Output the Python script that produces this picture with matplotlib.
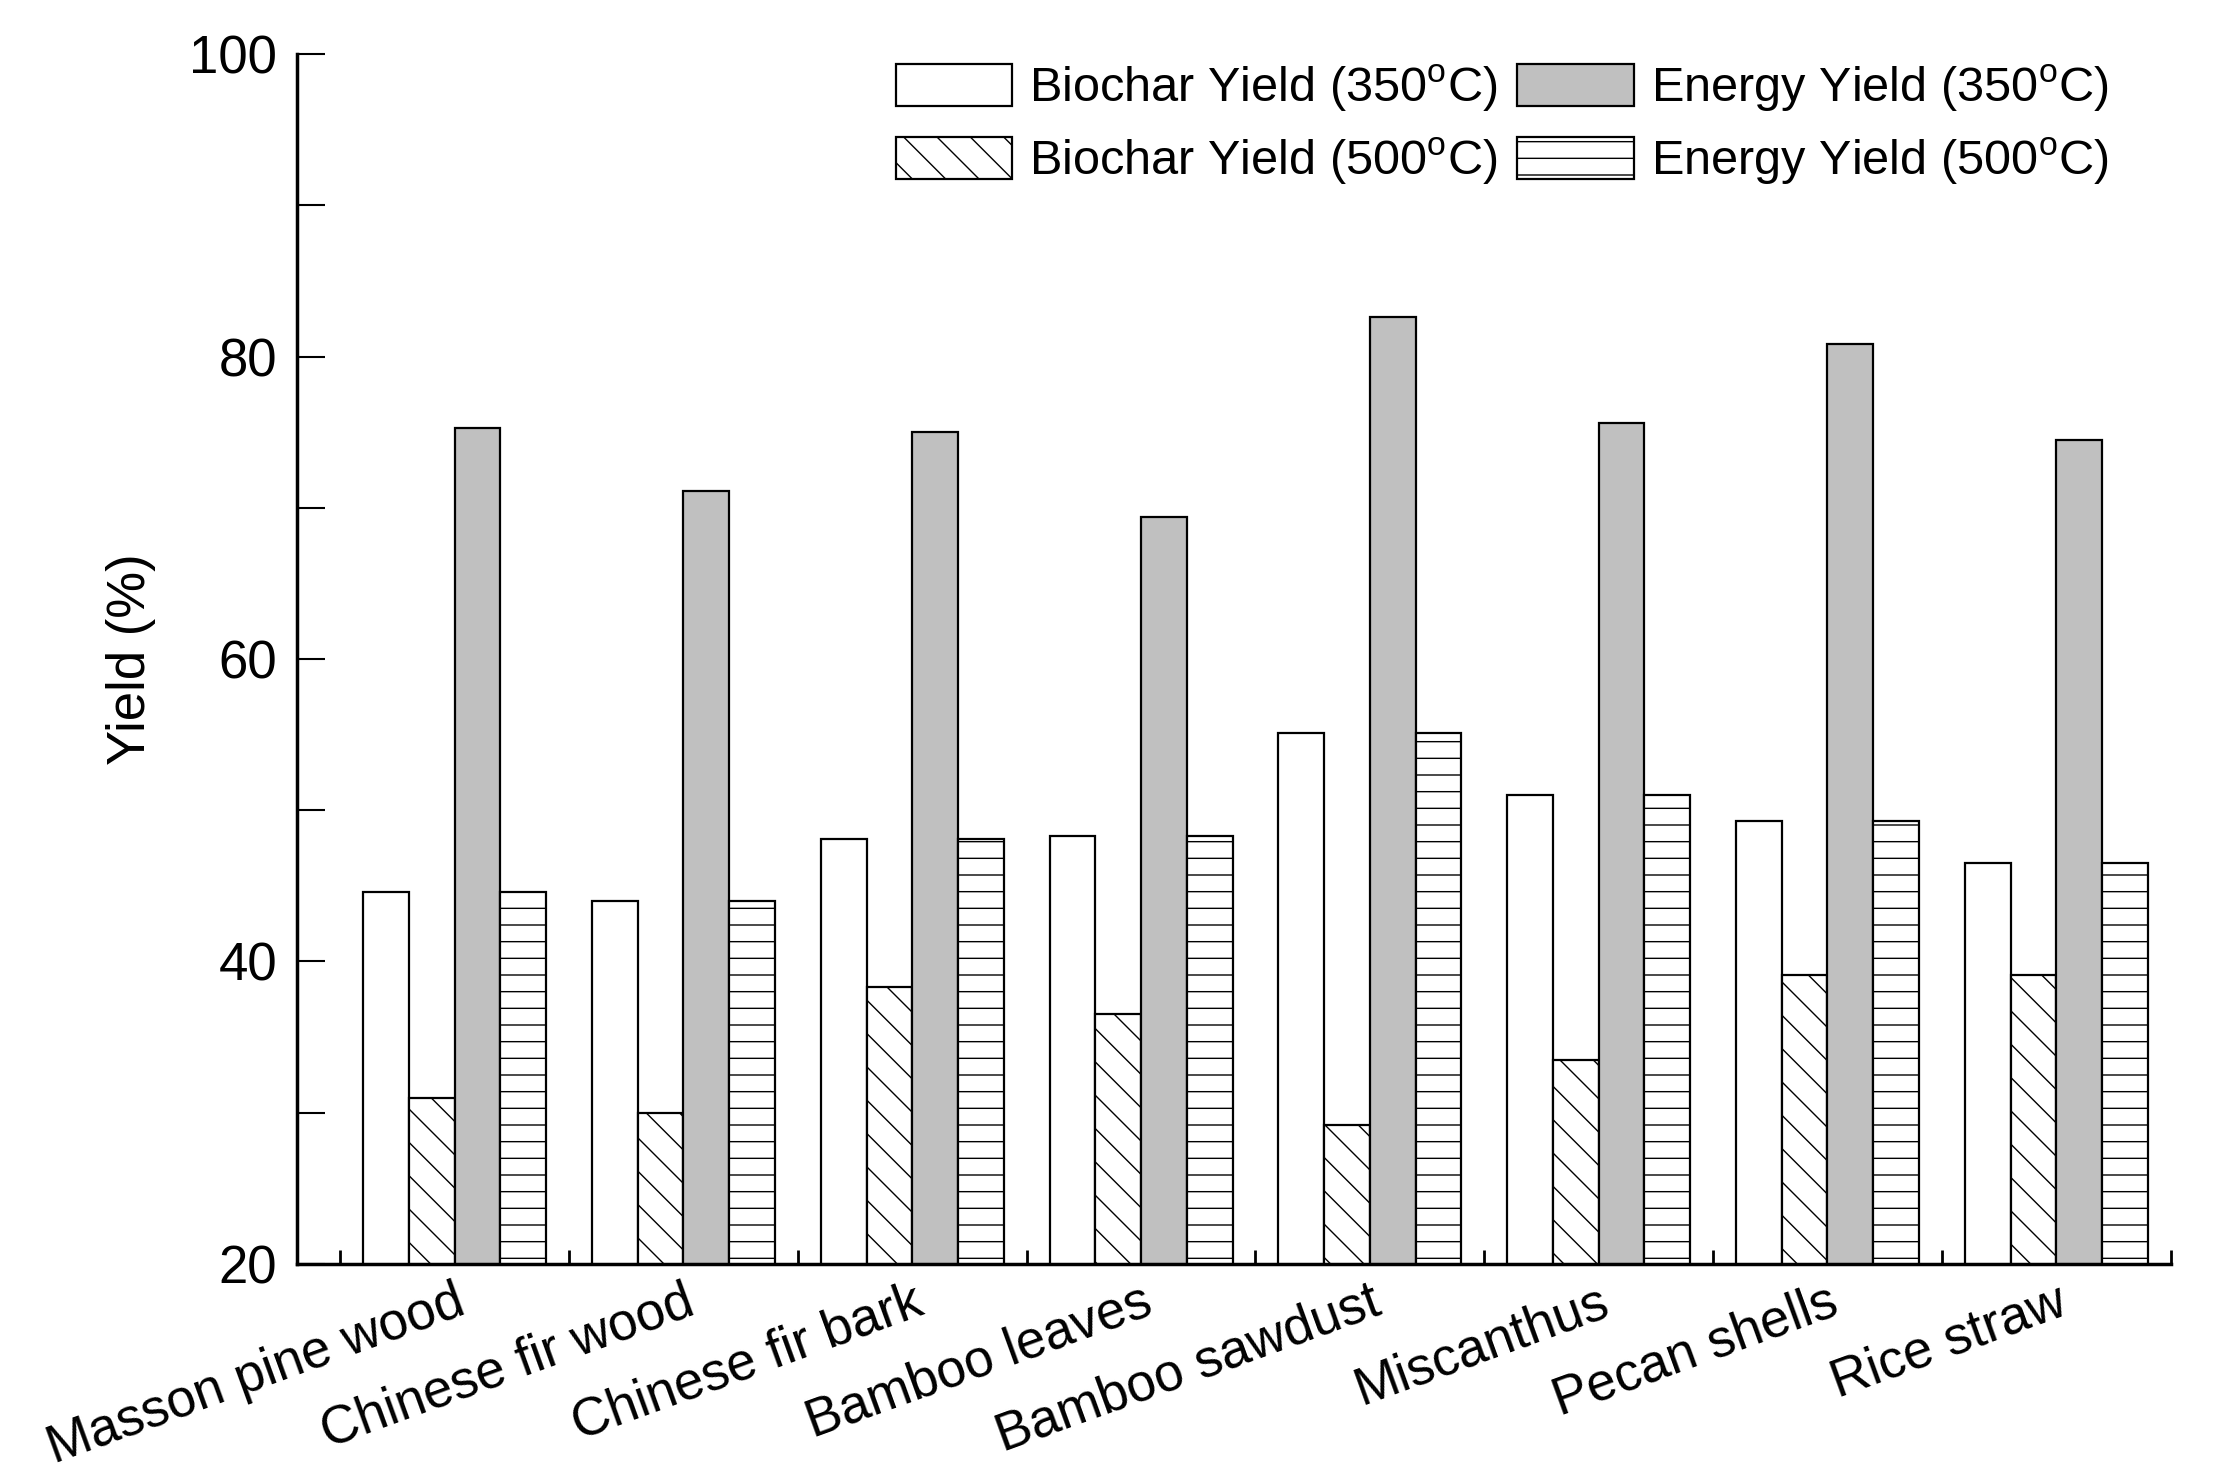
import numpy as np
import matplotlib
matplotlib.use('Agg')
import matplotlib.pyplot as plt
from matplotlib.ticker import FixedLocator, MultipleLocator

plt.rcParams['font.family'] = ['Liberation Sans', 'DejaVu Sans']
plt.rcParams['mathtext.fontset'] = 'custom'
plt.rcParams['mathtext.rm'] = 'Liberation Sans'
plt.rcParams['hatch.linewidth'] = 1.0

# Data
feedstocks = ['Masson pine wood', 'Chinese fir wood', 'Chinese fir bark',
              'Bamboo leaves', 'Bamboo sawdust', 'Miscanthus',
              'Pecan shells', 'Rice straw']
biochar_350 = [44.6, 44.0, 48.1, 48.3, 55.1, 51.0, 49.3, 46.5]
biochar_500 = [31.0, 30.0, 38.3, 36.5, 29.2, 33.5, 39.1, 39.1]
energy_350 = [75.3, 71.1, 75.0, 69.4, 82.6, 75.6, 80.8, 74.5]
energy_500 = [44.6, 44.0, 48.1, 48.3, 55.1, 51.0, 49.3, 46.5]

series_labels = [r'Biochar Yield (350$^{\rm o}$C)',
                 r'Biochar Yield (500$^{\rm o}$C)',
                 r'Energy Yield (350$^{\rm o}$C)',
                 r'Energy Yield (500$^{\rm o}$C)']

fig = plt.figure(figsize=(22.15, 14.79), dpi=100)
ax = fig.add_axes([0.134, 0.1454, 0.846, 0.818])

x = np.arange(len(feedstocks))
w = 0.2
lw = 1.6
b1 = ax.bar(x - 1.5 * w, biochar_350, w, color='white',
            edgecolor='black', linewidth=lw, label=series_labels[0])
b2 = ax.bar(x - 0.5 * w, biochar_500, w, color='white', hatch='\\',
            edgecolor='black', linewidth=lw, label=series_labels[1])
b3 = ax.bar(x + 0.5 * w, energy_350, w, color='#c0c0c0',
            edgecolor='black', linewidth=lw, label=series_labels[2])
b4 = ax.bar(x + 1.5 * w, energy_500, w, color='white', hatch='-',
            edgecolor='black', linewidth=lw, label=series_labels[3])

ax.set_ylim(20, 100)
ax.set_xlim(-0.69, 7.5)

# Axes style
for s in ['top', 'right']:
    ax.spines[s].set_visible(False)
for s in ['left', 'bottom']:
    ax.spines[s].set_linewidth(2.5)

ax.yaxis.set_major_locator(MultipleLocator(20))
ax.yaxis.set_minor_locator(MultipleLocator(10))
ax.tick_params(axis='y', which='both', direction='in', length=20, width=1.5,
               labelsize=38, pad=14)

# category labels at group centres, ticks between groups
ax.set_xticks(x)
ax.set_xticklabels(feedstocks, rotation=20, ha='right', rotation_mode='anchor',
                   fontsize=38)
ax.tick_params(axis='x', which='major', length=0, pad=9)
ax.xaxis.set_minor_locator(FixedLocator(np.arange(-0.5, 8, 1.0)))
ax.tick_params(axis='x', which='minor', direction='in', length=10, width=2)

ax.set_ylabel('Yield (%)', fontsize=38, labelpad=24)

ax.legend(handles=[b1, b2, b3, b4], ncol=2, loc='upper right',
          bbox_to_anchor=(0.99, 1.029), frameon=False, fontsize=35,
          handlelength=2.4, handleheight=0.95, handletextpad=0.35,
          columnspacing=0.4, labelspacing=0.45)

plt.savefig('out.png', dpi=100)
plt.close(fig)
